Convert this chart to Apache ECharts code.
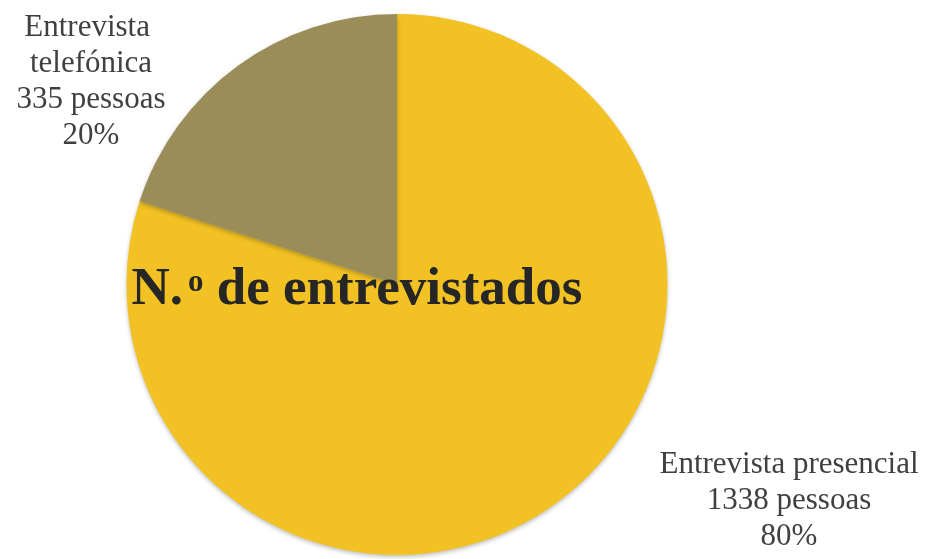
<!DOCTYPE html>
<html>
<head>
<meta charset="utf-8">
<script src="https://cdn.jsdelivr.net/npm/echarts@6/dist/echarts.min.js"></script>
<style>
  html, body { margin: 0; padding: 0; background: #ffffff; }
  #chart { width: 930px; height: 559px; }
</style>
</head>
<body>
<div id="chart"></div>
<script>
// Interview modes and number of respondents
const categories = ['Entrevista presencial', 'Entrevista telefónica'];
const respondents = [1338, 335];
const sliceColors = ['#F2C123', '#9B8D58'];
const chartTitle = 'N.º de entrevistados';

const chart = echarts.init(document.getElementById('chart'), null, { renderer: 'canvas' });

const labelFont = '"Liberation Serif", "Times New Roman", serif';

// Where each slice's caption block sits (centre of the block)
const labelAnchors = [
  { x: 789, y: 501 },
  { x: 91, y: 82 }
];
const labelWraps = [400, 170];

const option = {
  backgroundColor: '#ffffff',
  animation: false,
  graphic: [{
    type: 'text',
    x: 357,
    y: 290,
    z: 10,
    style: {
      // "N.º" drawn with a raised, smaller "o"
      text: '{a|N.}{s|o}{a| de entrevistados}',
      align: 'center',
      verticalAlign: 'middle',
      rich: {
        a: {
          fontFamily: labelFont,
          fontWeight: 'bold',
          fontSize: 53,
          lineHeight: 60,
          fill: '#262626'
        },
        s: {
          fontFamily: labelFont,
          fontWeight: 'bold',
          fontSize: 31,
          lineHeight: 60,
          verticalAlign: 'top',
          padding: [7, 0, 0, 5],
          fill: '#262626'
        }
      }
    }
  }],
  series: [{
    type: 'pie',
    center: [397, 284.5],
    radius: [0, 270.5],
    startAngle: 90,
    clockwise: true,
    percentPrecision: 0,
    avoidLabelOverlap: false,
    itemStyle: {
      borderWidth: 0,
      shadowBlur: 4,
      shadowOffsetY: 2,
      shadowColor: 'rgba(0,0,0,0.25)'
    },
    emphasis: { disabled: true },
    label: {
      show: true,
      formatter: '{b}\n{c} pessoas\n{d}%',
      fontFamily: labelFont,
      fontSize: 31,
      lineHeight: 36,
      color: '#404040',
      align: 'center',
      overflow: 'break'
    },
    labelLine: { show: false },
    labelLayout: function (params) {
      const a = labelAnchors[params.dataIndex];
      return {
        x: a.x,
        y: a.y,
        align: 'center',
        verticalAlign: 'middle',
        hideOverlap: false
      };
    },
    data: categories.map(function (name, i) {
      return {
        name: name,
        value: respondents[i],
        itemStyle: { color: sliceColors[i] },
        label: { width: labelWraps[i] }
      };
    })
  }]
};

chart.setOption(option);
</script>
</body>
</html>
